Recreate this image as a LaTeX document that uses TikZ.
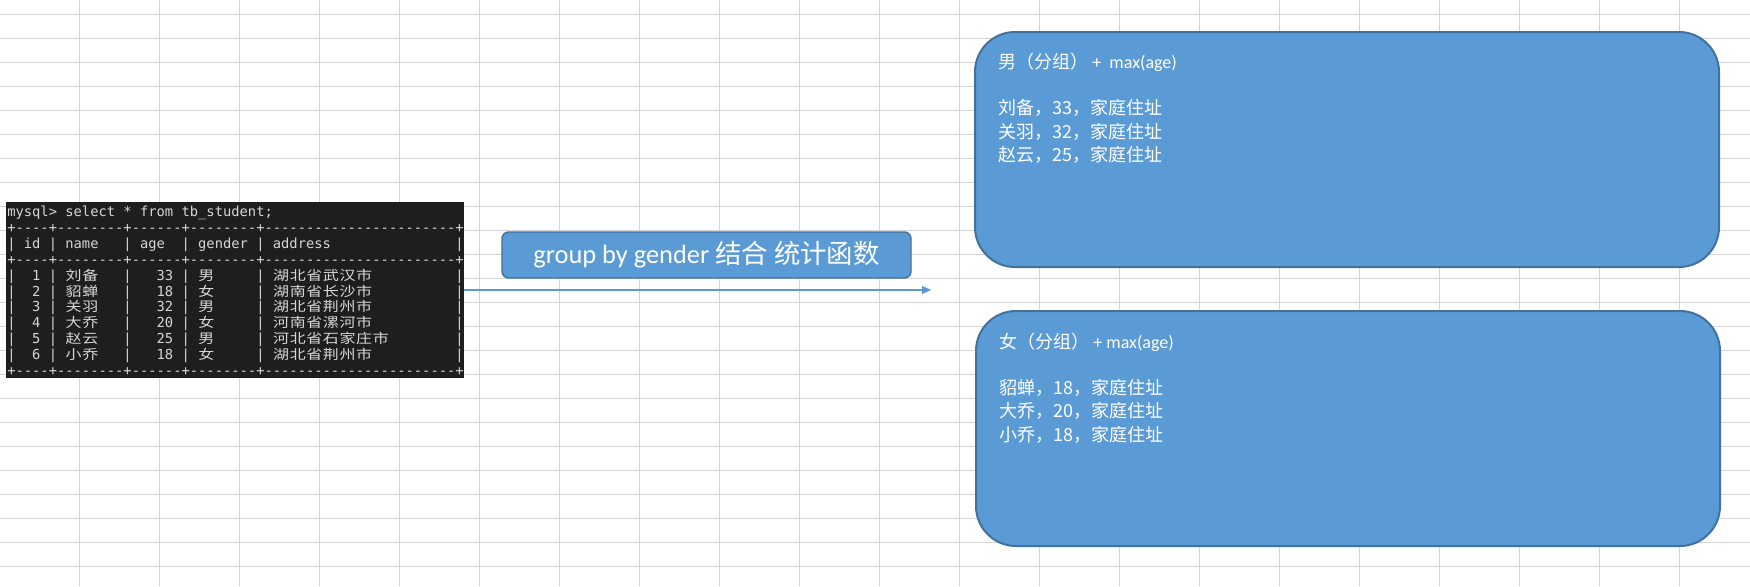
\documentclass[tikz,border=0pt]{standalone}
\usepackage{fontspec}
\setmainfont{Carlito}
\newfontfamily\cjk{Noto Sans CJK SC}
\newfontfamily\cjkterm{Noto Sans CJK SC}[FakeStretch=1.2]
\newfontfamily\mono{DejaVu Sans Mono}[Ligatures=TeXOff]
\usetikzlibrary{arrows.meta}
\definecolor{boxblue}{HTML}{5B9BD5}
\definecolor{boxedge}{HTML}{41719C}
\definecolor{gridc}{HTML}{D4D4D4}
\definecolor{termbg}{HTML}{1E1E1E}
\definecolor{termfg}{HTML}{D6D6D6}
\newlength\cw
\setlength\cw{6.225pt}
\newcommand\tc[1]{\makebox[2\cw][c]{\cjkterm\fontsize{10pt}{12pt}\selectfont #1}}
\def\tcrun#1{\ifx#1\relax\else\tc{#1}\expandafter\tcrun\fi}
\newcommand\trow[6]{|~~#1~|~\tcrun#2\relax~~~|~~~#3~|~\tc{#4}~~~~~|~\tcrun#5\relax#6|}
\begin{document}
\begin{tikzpicture}[x=0.75pt,y=-0.75pt,
  gridline/.style={draw=gridc,line width=0.75pt},
  term/.style={anchor=base west,inner sep=0pt,text=termfg,font=\mono\fontsize{10.34pt}{12pt}\selectfont},
  termbox/.style={fill=termbg,inner sep=0pt,minimum width=343.5pt,minimum height=132pt},
  bluebox/.style={fill=boxblue,draw=boxedge,line width=1.5pt,rounded corners=30pt,inner sep=0pt,minimum width=558pt,minimum height=176.25pt},
  lbl/.style={fill=boxblue,draw=boxedge,line width=1.1pt,rounded corners=5pt,inner sep=0pt,minimum width=306.75pt,minimum height=34.5pt,text=white,font=\fontsize{19.8pt}{23pt}\selectfont},
  boxtext/.style={anchor=base west,inner sep=0pt,text=white,font=\fontsize{13.5pt}{16pt}\selectfont},
  arr/.style={draw=boxblue,line width=0.9pt,-{Triangle[length=6.75pt,width=6pt]}}
]
\useasboundingbox (0,0) rectangle (1750,586);
\fill[white] (0,0) rectangle (1750,586);
% spreadsheet grid
\foreach \i in {0,...,20} \draw[gridline] ({79.3+80*\i},0) -- ({79.3+80*\i},586);
\foreach \j in {0,...,23} \draw[gridline] (0,{14.3+24*\j}) -- (1750,{14.3+24*\j});

% terminal table
\node[termbox] (tbl) at (235,290) {};
\node[term] (l0) at (7,216.5) {mysql>~select~*~from~tb\_student;};
\node[term] (l1) at (7,232.4) {+----+--------+------+--------+-----------------------+};
\node[term] (l2) at (7,248.3) {|~id~|~name~~~|~age~~|~gender~|~address~~~~~~~~~~~~~~~|};
\node[term] (l3) at (7,264.2) {+----+--------+------+--------+-----------------------+};
\node[term] (r1) at (7,280.1) {\trow{1}{刘备}{33}{男}{湖北省武汉市}{~~~~~~~~~~}};
\node[term] (r2) at (7,296.0) {\trow{2}{貂蝉}{18}{女}{湖南省长沙市}{~~~~~~~~~~}};
\node[term] (r3) at (7,311.9) {\trow{3}{关羽}{32}{男}{湖北省荆州市}{~~~~~~~~~~}};
\node[term] (r4) at (7,327.8) {\trow{4}{大乔}{20}{女}{河南省漯河市}{~~~~~~~~~~}};
\node[term] (r5) at (7,343.7) {\trow{5}{赵云}{25}{男}{河北省石家庄市}{~~~~~~~~}};
\node[term] (r6) at (7,359.6) {\trow{6}{小乔}{18}{女}{湖北省荆州市}{~~~~~~~~~~}};
\node[term] (l4) at (7,375.5) {+----+--------+------+--------+-----------------------+};

% label and arrow
\node[lbl] (grp) at (706.5,255) {group by gender {\cjk 结合} {\cjk 统计函数}};
\coordinate (tip) at (931,290);
\draw[arr] (tbl.east) -- (tip);

% result boxes
\node[bluebox] (male) at (1347,149.5) {};
\node[bluebox] (female) at (1348,428.5) {};

\node[boxtext] (m0) at ([shift={(24,37.3)}]male.north west) {{\cjk 男（分组）} +\ \ max(age)};
\node[boxtext] (m1) at ([shift={(24,83.8)}]male.north west) {\cjk 刘备，33，家庭住址};
\node[boxtext] (m2) at ([shift={(24,107.3)}]male.north west) {\cjk 关羽，32，家庭住址};
\node[boxtext] (m3) at ([shift={(24,130.8)}]male.north west) {\cjk 赵云，25，家庭住址};

\node[boxtext] (f0) at ([shift={(24,38)}]female.north west) {{\cjk 女（分组）} + max(age)};
\node[boxtext] (f1) at ([shift={(24,84)}]female.north west) {\cjk 貂蝉，18，家庭住址};
\node[boxtext] (f2) at ([shift={(24,107.5)}]female.north west) {\cjk 大乔，20，家庭住址};
\node[boxtext] (f3) at ([shift={(24,131)}]female.north west) {\cjk 小乔，18，家庭住址};
\end{tikzpicture}
\end{document}
